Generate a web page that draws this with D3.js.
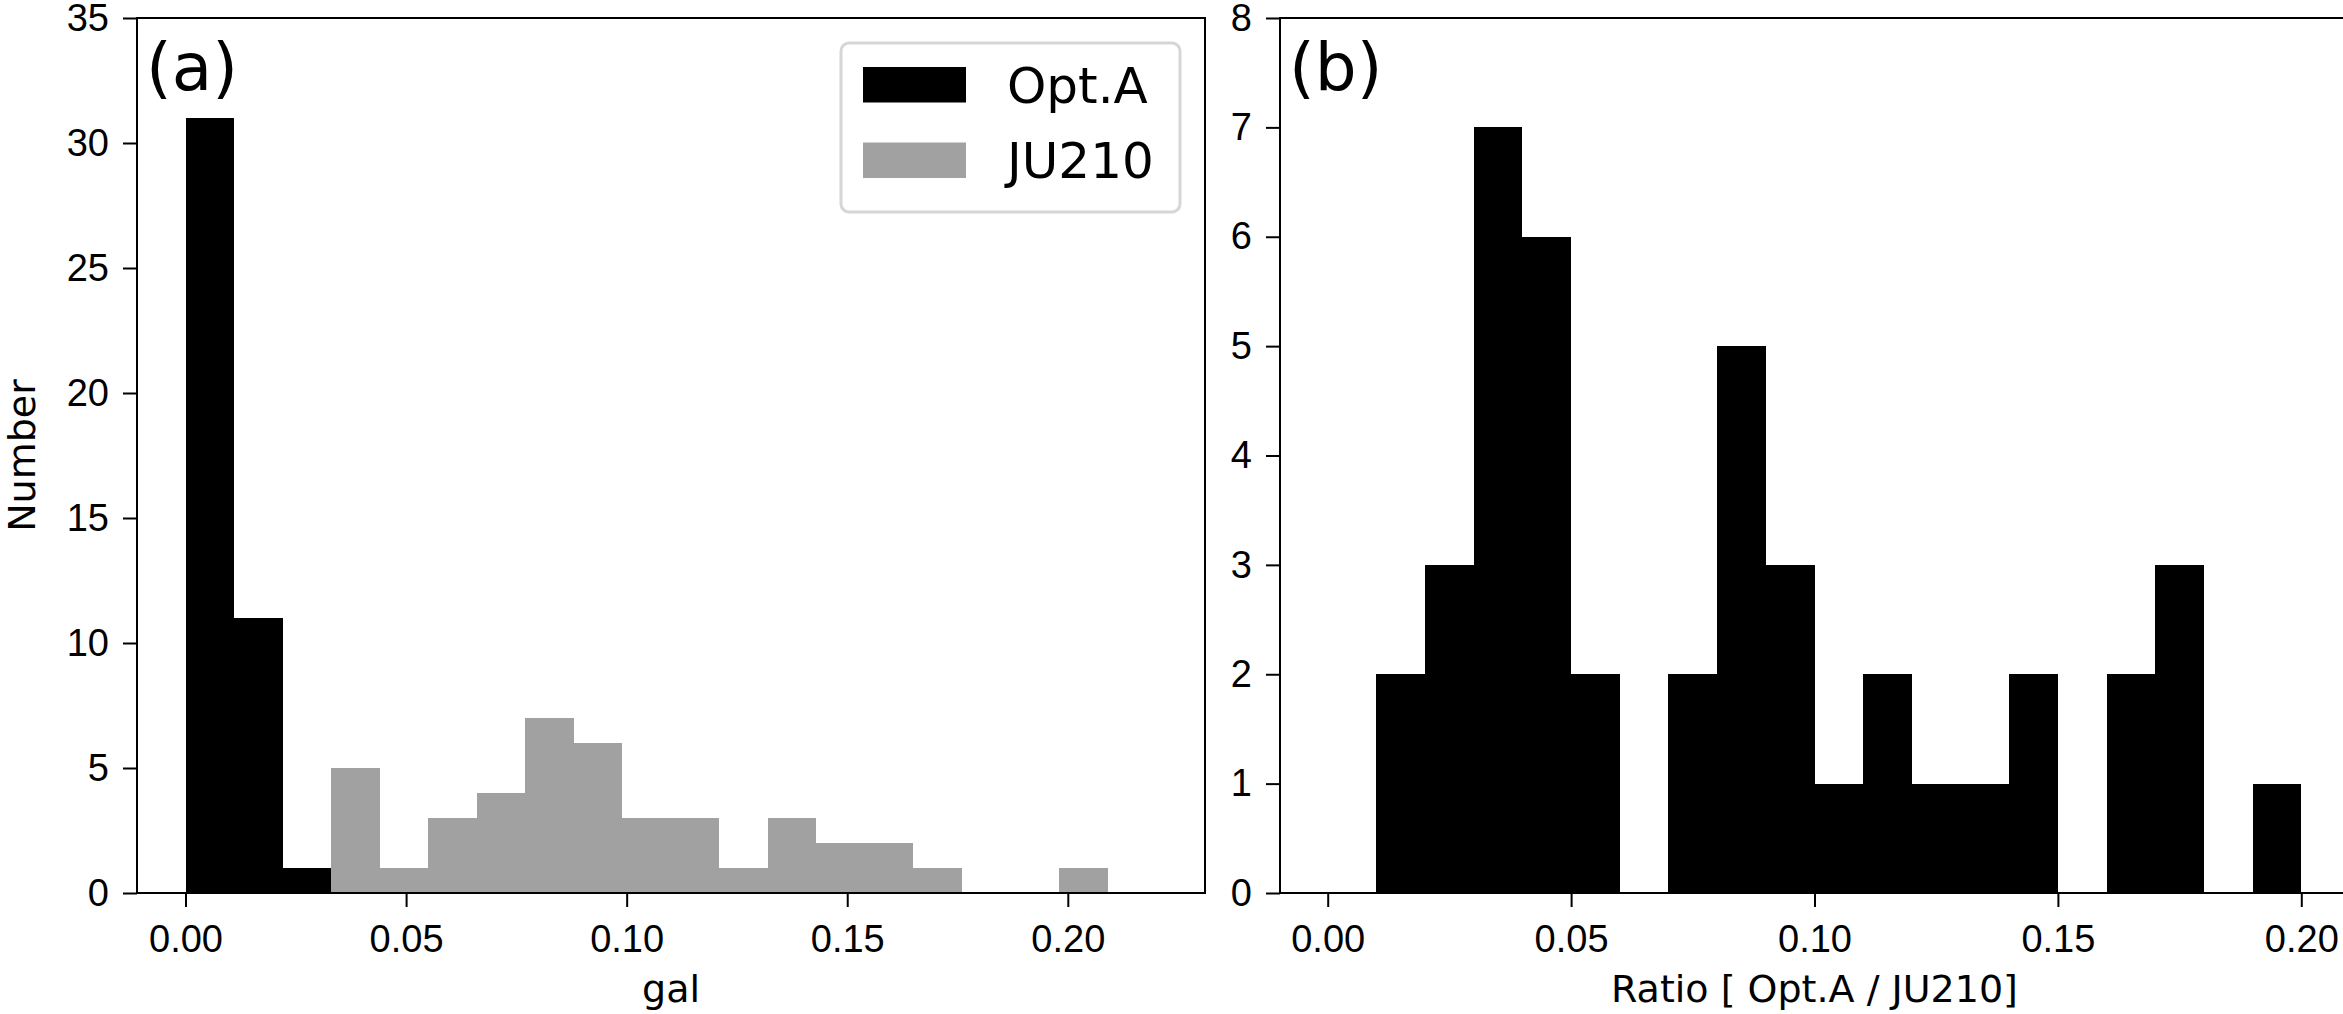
<!DOCTYPE html>
<html>
<head>
<meta charset="utf-8">
<script src="https://cdn.jsdelivr.net/npm/d3@7"></script>
<style>
  body { margin: 0; background: #fff; }
  svg { display: block; font-family: "DejaVu Sans", sans-serif; }
  .tick text { font-size: 38px; fill: #000; }
  .tick line { stroke: #000; stroke-width: 2; }
  .label { font-size: 38px; fill: #000; }
  .panel { font-size: 66px; fill: #000; }
  .legend text { font-size: 50px; fill: #000; }
</style>
</head>
<body>
<svg width="2343" height="1014"></svg>
<script>
// **** data ****

// panel (a): bin edges of the "gal" histogram
var galEdges = [0, 0.011, 0.022, 0.033, 0.044, 0.055, 0.066, 0.077, 0.088, 0.099,
                0.110, 0.121, 0.132, 0.143, 0.154, 0.165, 0.176, 0.187, 0.198, 0.209];
var optACounts  = [31, 11, 1, 0, 0, 0, 0, 0, 0, 0, 0, 0, 0, 0, 0, 0, 0, 0, 0];
var ju210Counts = [0, 0, 0, 5, 1, 3, 4, 7, 6, 3, 3, 1, 3, 2, 2, 1, 0, 0, 1];

// panel (b): ratio histogram
var ratioEdges = [0, 0.01, 0.02, 0.03, 0.04, 0.05, 0.06, 0.07, 0.08, 0.09, 0.10,
                  0.11, 0.12, 0.13, 0.14, 0.15, 0.16, 0.17, 0.18, 0.19, 0.20];
var ratioCounts = [0, 2, 3, 7, 6, 2, 0, 2, 5, 3, 1, 2, 1, 1, 2, 0, 2, 3, 0, 1];

var xTicks = [0, 0.05, 0.10, 0.15, 0.20];
var yTicksA = [0, 5, 10, 15, 20, 25, 30, 35];
var yTicksB = [0, 1, 2, 3, 4, 5, 6, 7, 8];

var seriesNames = ['Opt.A', 'JU210'];
var black = '#000000', grey = '#a0a1a0';

// **** scales ****

var plotTop = 18, plotBottom = 893;

var xA = d3.scaleLinear().domain([-0.011, 0.2311]).range([137, 1205]);
var yA = d3.scaleLinear().domain([0, 35]).range([plotBottom, plotTop]);

var xB = d3.scaleLinear().domain([-0.0098, 0.2098]).range([1280, 2349]);
var yB = d3.scaleLinear().domain([0, 8]).range([plotBottom, plotTop]);

var svg = d3.select('svg');

function drawBars(x, y, edges, counts, color) {
    svg.append('g').selectAll('rect')
        .data(counts.map(function(c, i){ return {c: c, x0: edges[i], x1: edges[i+1]}; })
                    .filter(function(d){ return d.c > 0; }))
        .enter().append('rect')
        .attr('x', function(d){ return x(d.x0); })
        .attr('width', function(d){ return x(d.x1) - x(d.x0); })
        .attr('y', function(d){ return y(d.c); })
        .attr('height', function(d){ return y(0) - y(d.c); })
        .attr('shape-rendering', 'crispEdges')
        .style('fill', color);
}

function drawAxes(x, y, yTicks) {
    svg.append('g')
        .attr('transform', 'translate(0,' + plotBottom + ')')
        .call(d3.axisBottom(x).tickValues(xTicks).tickFormat(d3.format('.2f'))
              .tickSize(14).tickPadding(18))
        .call(function(g){ g.select('.domain').remove(); });

    svg.append('g')
        .attr('transform', 'translate(' + x.range()[0] + ',0)')
        .call(d3.axisLeft(y).tickValues(yTicks).tickFormat(d3.format('d'))
              .tickSize(14).tickPadding(14))
        .call(function(g){ g.select('.domain').remove(); });

    // spines
    svg.append('rect')
        .attr('x', x.range()[0]).attr('y', plotTop)
        .attr('width', x.range()[1] - x.range()[0])
        .attr('height', plotBottom - plotTop)
        .style('fill', 'none').style('stroke', '#000').style('stroke-width', 2);
}

// **** panel (a) ****

drawBars(xA, yA, galEdges, optACounts, black);
drawBars(xA, yA, galEdges, ju210Counts, grey);
drawAxes(xA, yA, yTicksA);

svg.append('text').attr('class', 'panel').attr('x', 146).attr('y', 90).text('(a)');

svg.append('text').attr('class', 'label')
    .attr('text-anchor', 'middle')
    .attr('x', (xA.range()[0] + xA.range()[1]) / 2).attr('y', 1002)
    .text('gal');

svg.append('text').attr('class', 'label')
    .attr('text-anchor', 'middle')
    .attr('transform', 'translate(35,' + (plotTop + plotBottom) / 2 + ') rotate(-90)')
    .text('Number');

// legend
var legend = svg.append('g').attr('class', 'legend');
legend.append('rect')
    .attr('x', 841).attr('y', 43).attr('width', 339).attr('height', 169).attr('rx', 8)
    .style('fill', '#fff').style('stroke', '#d6d6d6').style('stroke-width', 3);

[black, grey].forEach(function(c, i) {
    var yy = 67 + i * 75.5;
    legend.append('rect')
        .attr('x', 863).attr('y', yy).attr('width', 103).attr('height', 35.5)
        .style('fill', c);
    legend.append('text')
        .attr('x', 1007).attr('y', yy + 17.75 + 18)
        .text(seriesNames[i]);
});

// **** panel (b) ****

drawBars(xB, yB, ratioEdges, ratioCounts, black);
drawAxes(xB, yB, yTicksB);

svg.append('text').attr('class', 'panel').attr('x', 1289).attr('y', 90).text('(b)');

svg.append('text').attr('class', 'label')
    .attr('text-anchor', 'middle')
    .attr('x', (xB.range()[0] + xB.range()[1]) / 2).attr('y', 1002)
    .text('Ratio [ Opt.A / JU210]');
</script>
</body>
</html>
